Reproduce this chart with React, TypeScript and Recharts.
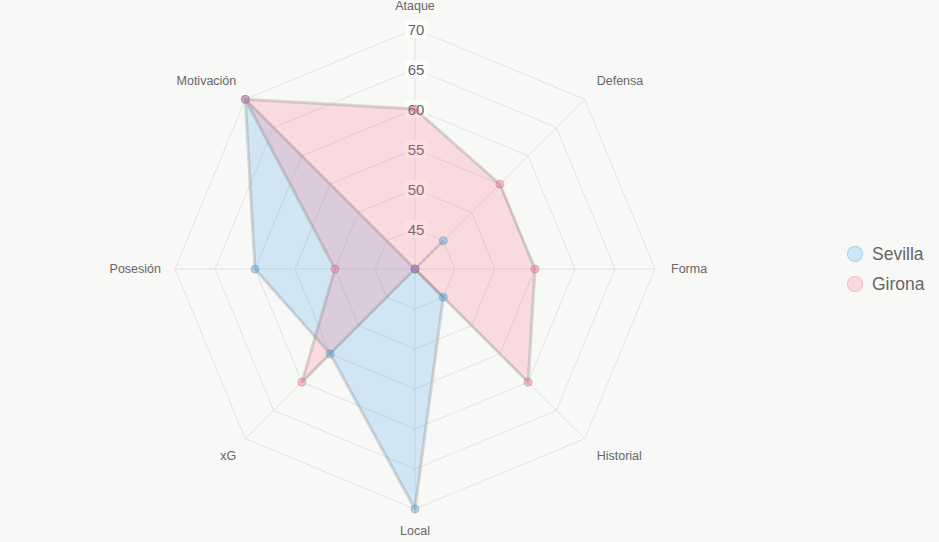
import { RadarChart, Radar, PolarGrid, PolarAngleAxis, PolarRadiusAxis, Legend } from "recharts";

const categories = ["Ataque", "Defensa", "Forma", "Historial", "Local", "xG", "Posesión", "Motivación"];
const sevilla = [40, 45, 40, 45, 70, 55, 60, 70];
const girona = [60, 55, 55, 60, 40, 60, 50, 70];
const radiusTicks = [40, 45, 50, 55, 60, 65, 70];

const data = categories.map((c, i) => ({ axis: c, Sevilla: sevilla[i], Girona: girona[i] }));

const CX = 415;
const CY = 269;
const R = 240;

function AngleTick(props: any) {
  const i = props.payload.index;
  const a = ((90 - i * 45) * Math.PI) / 180;
  const cos = Math.cos(a);
  const sin = Math.sin(a);
  let x = CX + R * cos;
  let y = CY - R * sin;
  let anchor = "middle";
  if (Math.abs(cos) < 0.01) {
    y += sin > 0 ? -23 : 22;
  } else {
    const horiz = Math.abs(sin) < 0.01;
    if (cos > 0) {
      anchor = "start";
      x += horiz ? 16 : 12;
    } else {
      anchor = "end";
      x -= horiz ? 14 : 9;
    }
    if (!horiz) y += sin > 0 ? -18 : 17;
  }
  return (
    <text x={x} y={y} textAnchor={anchor} dominantBaseline="central" fontSize={12.5} fill="#666">
      {props.payload.value}
    </text>
  );
}

function RadiusTick(props: any) {
  const v = props.payload.value;
  if (v === 40) return <g />;
  const w = 22;
  return (
    <g>
      <rect x={props.x - w / 2 + 1} y={props.y - 9} width={w} height={18} fill="rgba(255,255,255,0.75)" />
      <text x={props.x + 1} y={props.y} textAnchor="middle" dominantBaseline="central" fontSize={15} fill="#666">
        {v}
      </text>
    </g>
  );
}

function LegendBox() {
  const items = [
    { name: "Sevilla", color: "rgba(54,162,235,0.2)", border: "rgba(54,162,235,0.3)" },
    { name: "Girona", color: "rgba(255,99,132,0.2)", border: "rgba(255,99,132,0.3)" },
  ];
  return (
    <div>
      {items.map((it) => (
        <div key={it.name} style={{ display: "flex", alignItems: "center", height: 30 }}>
          <span
            style={{
              width: 14,
              height: 14,
              borderRadius: "50%",
              background: it.color,
              border: "1px solid " + it.border,
              marginRight: 9,
            }}
          />
          <span style={{ fontSize: 17.5, color: "#666" }}>{it.name}</span>
        </div>
      ))}
    </div>
  );
}

export default function App() {
  return (
    <div
      style={{
        position: "absolute",
        left: 0,
        top: 0,
        width: 939,
        height: 542,
        background: "#f8f8f7",
        fontFamily: "'Liberation Sans', Arial, sans-serif",
      }}
    >
      <RadarChart width={939} height={542} data={data} cx={CX} cy={CY} outerRadius={R}>
        <PolarGrid gridType="polygon" stroke="#e2e2e2" />
        <PolarAngleAxis dataKey="axis" tick={<AngleTick />} tickLine={false} axisLine={false} />
        <PolarRadiusAxis
          angle={90}
          domain={[40, 70]}
          ticks={radiusTicks}
          tickCount={7}
          axisLine={false}
          tick={<RadiusTick />}
          {...({ zIndex: -50 } as any)}
        />
        <Radar
          name="Sevilla"
          dataKey="Sevilla"
          stroke="rgba(120,120,120,0.27)"
          strokeWidth={3}
          fill="rgba(54,162,235,0.2)"
          fillOpacity={1}
          dot={{ r: 4, fill: "rgba(54,162,235,0.4)", stroke: "rgba(120,120,120,0.35)", strokeWidth: 1 }}
          isAnimationActive={false}
        />
        <Radar
          name="Girona"
          dataKey="Girona"
          stroke="rgba(120,120,120,0.27)"
          strokeWidth={3}
          fill="rgba(255,99,132,0.2)"
          fillOpacity={1}
          dot={{ r: 4, fill: "rgba(255,99,132,0.4)", stroke: "rgba(120,120,120,0.35)", strokeWidth: 1 }}
          isAnimationActive={false}
        />
        <Legend
          layout="vertical"
          align="right"
          verticalAlign="top"
          content={<LegendBox />}
          wrapperStyle={{ left: 847, top: 239, width: 92 }}
        />
      </RadarChart>
    </div>
  );
}
